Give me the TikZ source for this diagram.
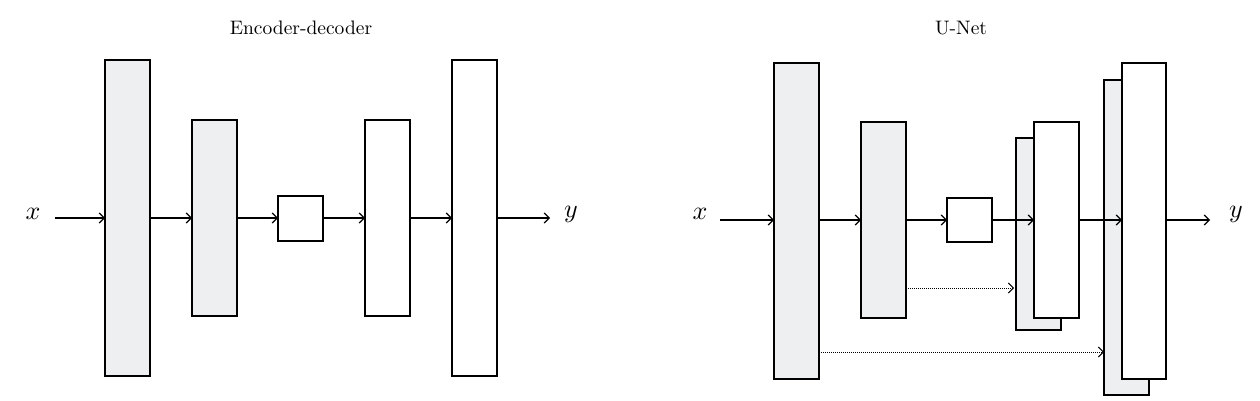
\documentclass[tikz,border=0pt]{standalone}
\usetikzlibrary{arrows.meta}
\definecolor{boxgray}{RGB}{238,239,241}
\newcommand{\bigttl}[1]{\scalebox{1.95}{#1}}
\newcommand{\biglbl}[1]{\scalebox{2.6}{$#1$}}
\begin{document}
\begin{tikzpicture}[x=1pt,y=-1pt,
  blk/.style={draw,line width=1.2pt,fill=#1},
  blk/.default=white,
  arr/.style={-{Straight Barb[length=5pt,width=10pt]},line width=1.2pt},
  dotarr/.style={-{Straight Barb[length=5pt,width=10pt]},line width=1pt,densely dotted}]
\useasboundingbox (0,0) rectangle (1260,401);
\node (t1) at (301,28) {\bigttl{Encoder-decoder}};
\node (t2) at (961,28) {\bigttl{U-Net}};
% left
\node (x1) at (33,214) {\biglbl{x}};
\draw[blk=boxgray] (105,60) rectangle (150,376);
\draw[blk=boxgray] (192,120) rectangle (237,316);
\draw[blk] (278,196) rectangle (323,241);
\draw[blk] (365,120) rectangle (410,316);
\draw[blk] (452,60) rectangle (497,376);
\node (y1) at (571,214) {\biglbl{y}};
\draw[arr] (55,218) -- (105,218);
\draw[arr] (150,218) -- (192,218);
\draw[arr] (237,218) -- (278,218);
\draw[arr] (323,218) -- (365,218);
\draw[arr] (410,218) -- (452,218);
\draw[arr] (497,218) -- (550,218);
% right
\node (x2) at (700,214) {\biglbl{x}};
\draw[blk=boxgray] (774,63) rectangle (819,379);
\draw[blk=boxgray] (861,122) rectangle (906,318);
\draw[blk] (947,198) rectangle (992,242);
\draw[blk=boxgray] (1016,138) rectangle (1061,330);
\draw[blk] (1034,122) rectangle (1079,318);
\draw[blk=boxgray] (1104,80) rectangle (1149,395);
\draw[blk] (1122,63) rectangle (1166,379);
\node (y2) at (1236,214) {\biglbl{y}};
\draw[arr] (720,220) -- (774,220);
\draw[arr] (819,220) -- (861,220);
\draw[arr] (906,220) -- (947,220);
\draw[arr] (992,220) -- (1034,220);
\draw[arr] (1079,220) -- (1122,220);
\draw[arr] (1166,220) -- (1210,220);
\draw[dotarr] (906,288) -- (1014,288);
\draw[dotarr] (819,352) -- (1104,352);
\end{tikzpicture}
\end{document}
